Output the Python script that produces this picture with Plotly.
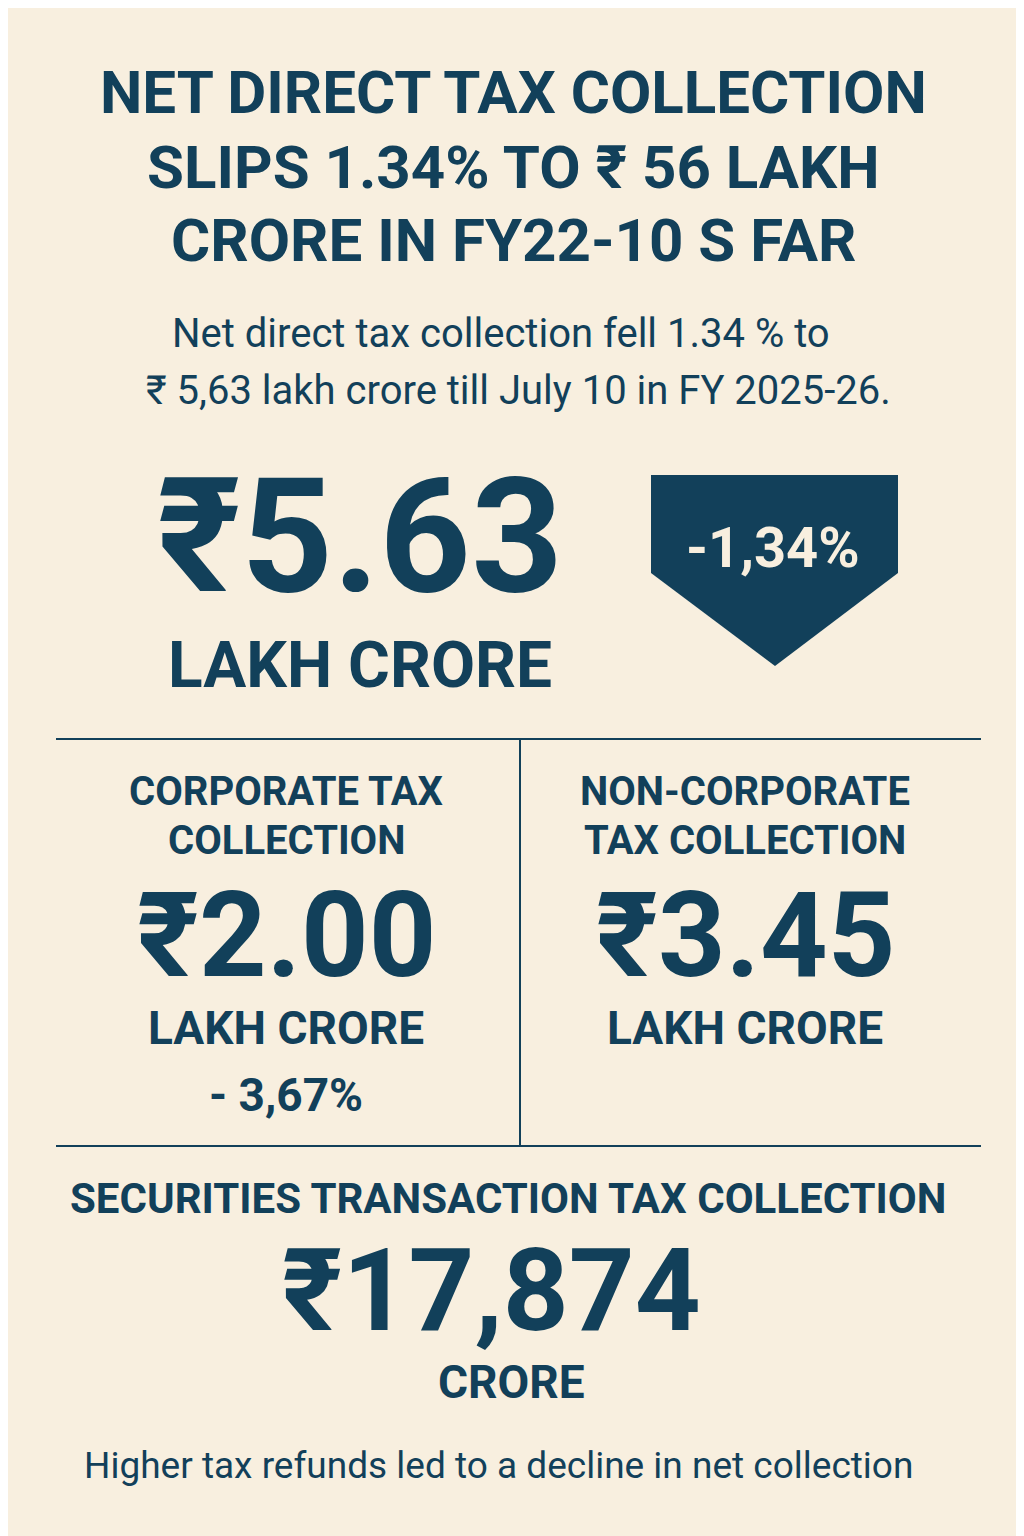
import plotly.graph_objects as go

BG = "#F8EFDF"
INK = "#12405A"

title_lines = ["NET DIRECT TAX COLLECTION", "SLIPS 1.34% TO ₹ 56 LAKH", "CRORE IN FY22-10 S FAR"]
subtitle_lines = ["Net direct tax collection fell 1.34 % to", "₹ 5,63 lakh crore till July 10 in FY 2025-26."]
headline_value = "₹5.63"
headline_unit = "LAKH CRORE"
headline_change = "-1,34%"
panel_titles = [["CORPORATE TAX", "COLLECTION"], ["NON-CORPORATE", "TAX COLLECTION"]]
panel_values = ["₹2.00", "₹3.45"]
panel_units = ["LAKH CRORE", "LAKH CRORE"]
panel_changes = ["- 3,67%", ""]
stt_title = "SECURITIES TRANSACTION TAX COLLECTION"
stt_value = "₹17,874"
stt_unit = "CRORE"
footer = "Higher tax refunds led to a decline in net collection"

fig = go.Figure()
ann = []

def T(x, y, text, size, bold=True, color=INK, family="Roboto", xanchor="center"):
    ann.append(dict(x=x, y=y, xref="x", yref="y", text=("<b>%s</b>" % text) if bold else text,
                    showarrow=False, xanchor=xanchor, yanchor="middle",
                    font=dict(size=size, color=color, family=family)))

for line, y in zip(title_lines, [84, 159, 232]):
    T(505, y, line, 60)
T(493, 325, subtitle_lines[0], 40, bold=False)
T(510, 382, subtitle_lines[1], 40, bold=False)

T(352, 528, headline_value, 160)
T(352, 657, headline_unit, 64)

shapes = [
    dict(type="path", path="M643,467 L890,467 L890,565 L767,658 L643,565 Z",
         xref="x", yref="y", fillcolor=INK, line=dict(width=0), layer="below"),
    dict(type="line", x0=48, x1=973, y0=731, y1=731, xref="x", yref="y", line=dict(color=INK, width=2)),
    dict(type="line", x0=512, x1=512, y0=731, y1=1138, xref="x", yref="y", line=dict(color=INK, width=2)),
    dict(type="line", x0=48, x1=973, y0=1138, y1=1138, xref="x", yref="y", line=dict(color=INK, width=2)),
]
T(765, 540, headline_change, 56, color=BG)

for cx, titles, val, unit, ch in zip([278, 737], panel_titles, panel_values, panel_units, panel_changes):
    T(cx, 783, titles[0], 40)
    T(cx, 832, titles[1], 40)
    T(cx, 928, val, 118)
    T(cx, 1020, unit, 46)
    if ch:
        T(cx, 1087, ch, 46)

T(500, 1190, stt_title, 42)
T(483, 1282, stt_value, 115)
T(503, 1374, stt_unit, 46)
T(490, 1457, footer, 37, bold=False)

fig.update_layout(
    width=1024, height=1536, margin=dict(l=0, r=0, t=0, b=0),
    paper_bgcolor=BG, plot_bgcolor=BG, annotations=ann, shapes=shapes,
    xaxis=dict(range=[0, 1024], visible=False, fixedrange=True),
    yaxis=dict(range=[1536, 0], visible=False, fixedrange=True),
    showlegend=False,
)
fig.write_html("out.html")
